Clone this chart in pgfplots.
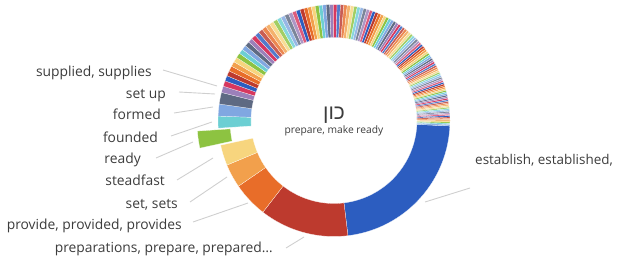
\documentclass[border=0pt]{standalone}
\usepackage{pgfplots}
\pgfplotsset{compat=1.18}
\usepackage{pgfplotstable}
\usepackage{fontspec}
\setmainfont{Open Sans}
\newfontfamily\hebfont[Script=Hebrew]{Liberation Sans}
\TeXXeTstate=1
\newcount\kk

\definecolor{c0}{HTML}{2C5DC0}
\definecolor{c1}{HTML}{BD3A2E}
\definecolor{c2}{HTML}{E86D29}
\definecolor{c3}{HTML}{F2A04C}
\definecolor{c4}{HTML}{F7D57E}
\definecolor{c5}{HTML}{8DC341}
\definecolor{c6}{HTML}{6CCFD3}
\definecolor{c7}{HTML}{80A7E1}
\definecolor{c8}{HTML}{5E6A83}
\definecolor{c9}{HTML}{9B80BA}
\definecolor{c10}{HTML}{D7375F}
\definecolor{txt}{HTML}{3C3C3C}
\definecolor{lead}{HTML}{CFCFCF}

% slice sizes in degrees, clockwise, starting at the largest slice
\pgfplotstableread{
w
80.4
44.7
17.7
11.9
10.3
8.5
6.0
6.0
5.8
3.2
2.8
2.7
2.6
2.6
2.5
2.5
2.5
2.4
2.4
2.4
2.3
2.3
2.3
2.3
2.2
2.2
2.2
2.2
2.1
2.1
2.1
2.0
2.0
2.0
2.0
1.9
1.9
1.9
1.9
1.8
1.8
1.8
1.8
1.8
1.7
1.7
1.7
1.7
1.7
1.6
1.6
1.6
1.6
1.6
1.5
1.5
1.5
1.5
1.5
1.4
1.4
1.4
1.4
1.4
1.4
1.3
1.3
1.3
1.3
1.3
1.3
1.2
1.2
1.2
1.2
1.2
1.2
1.1
1.1
1.1
1.1
1.1
1.1
1.0
1.0
1.0
1.0
1.0
1.0
1.0
1.0
0.9
0.9
0.9
0.9
0.9
0.9
0.9
0.9
0.9
0.9
0.8
0.8
0.8
0.8
0.8
0.8
0.8
0.8
0.8
0.8
0.8
0.7
0.7
0.7
0.7
0.7
0.7
0.7
0.7
0.7
0.7
0.7
0.6
0.6
0.6
0.6
0.6
0.7
}\slices

\def\cx{334}
\def\cy{142.5}
\def\Ro{116}
\def\Ri{83}

\begin{document}
\begin{tikzpicture}
\useasboundingbox (0,0) rectangle (617bp,263bp);
\begin{axis}[at={(0,0)}, anchor=south west, scale only axis,
  width=617bp, height=263bp, xmin=0, xmax=617, ymin=0, ymax=263,
  hide axis, clip=false]
\pgfplotstablegetrowsof{\slices}
\pgfmathtruncatemacro\N{\pgfplotsretval-1}
\def\acc{92.7}
\pgfplotsforeachungrouped \i in {0,...,\N}{%
  \pgfplotstablegetelem{\i}{w}\of\slices
  \let\w\pgfplotsretval
  \pgfmathtruncatemacro\n{max(1,ceil(\w/1.5))}
  \pgfmathtruncatemacro\np{\n+1}
  \pgfmathtruncatemacro\ci{mod(\i,11)}
  \pgfmathtruncatemacro\cyc{floor(\i/11)}
  \pgfmathtruncatemacro\odd{mod(\cyc,2)}
  \edef\fc{c\ci}%
  \ifnum\cyc>1 \ifnum\odd=0 \edef\fc{c\ci!82!white}\fi\fi
  \ifnum\i=5 \def\ddx{-20.8}\def\ddy{-2.9}\else\def\ddx{0}\def\ddy{0}\fi
  \def\outer{}\def\inner{}%
  \kk=0
  \loop
    \pgfmathsetmacro\t{\acc+\w*\the\kk/\n}%
    \pgfmathsetmacro\ox{\cx+\ddx+\Ro*sin(\t)}%
    \pgfmathsetmacro\oy{\cy+\ddy+\Ro*cos(\t)}%
    \pgfmathsetmacro\ix{\cx+\ddx+\Ri*sin(\t)}%
    \pgfmathsetmacro\iy{\cy+\ddy+\Ri*cos(\t)}%
    \edef\outer{\outer(\ox,\oy)}%
    \edef\inner{(\ix,\iy)\inner}%
    \advance\kk by 1
  \ifnum\kk<\np
  \repeat
  \edef\cmd{\noexpand\addplot[fill=\fc, draw=white, line width=0.2bp] coordinates {\outer\inner} -- cycle;}%
  \cmd
  \pgfmathsetmacro\acc{\acc+\w}%
}
% leader lines
\addplot[draw=lead, line width=0.9bp] coordinates {(163,193) (217,177)};
\addplot[draw=lead, line width=0.9bp] coordinates {(179,171) (215,169)};
\addplot[draw=lead, line width=0.9bp] coordinates {(174,150) (213,156)};
\addplot[draw=lead, line width=0.9bp] coordinates {(171,127) (212,141)};
\addplot[draw=lead, line width=0.9bp] coordinates {(156,105) (193,121)};
\addplot[draw=lead, line width=0.9bp] coordinates {(177,83) (213,105)};
\addplot[draw=lead, line width=0.9bp] coordinates {(190,61) (227,86)};
\addplot[draw=lead, line width=0.9bp] coordinates {(193,41) (248,60)};
\addplot[draw=lead, line width=0.9bp] coordinates {(286,15) (304,26)};
\addplot[draw=lead, line width=0.9bp] coordinates {(425,61) (470,75)};
% labels
\begin{scope}[every node/.style={text=txt, font=\fontsize{13.9}{16}\selectfont, inner sep=0pt}]
\node[anchor=base east] at (axis cs:152,186.3) {supplied, supplies};
\node[anchor=base east] at (axis cs:166,164.7) {set up};
\node[anchor=base east] at (axis cs:161,143) {formed};
\node[anchor=base east] at (axis cs:158,120.7) {founded};
\node[anchor=base east] at (axis cs:141,99) {ready};
\node[anchor=base east] at (axis cs:165,77) {steadfast};
\node[anchor=base east] at (axis cs:178,54.7) {set, sets};
\node[anchor=base east] at (axis cs:182,33) {provide, provided, provides};
\node[anchor=base east] at (axis cs:273,10.7) {preparations, prepare, prepared…};
\node[anchor=base west, font=\fontsize{13.5}{16}\selectfont] at (axis cs:475,98) {establish, established,};
\end{scope}
\node[text=txt, inner sep=0pt, anchor=base] at (axis cs:334,143.5) {\hebfont\fontsize{21}{24}\selectfont\beginR כון\endR};
\node[text=txt, inner sep=0pt, anchor=base] at (axis cs:334,129.5) {\fontsize{10.3}{12}\selectfont prepare, make ready};
\end{axis}
\end{tikzpicture}
\end{document}
